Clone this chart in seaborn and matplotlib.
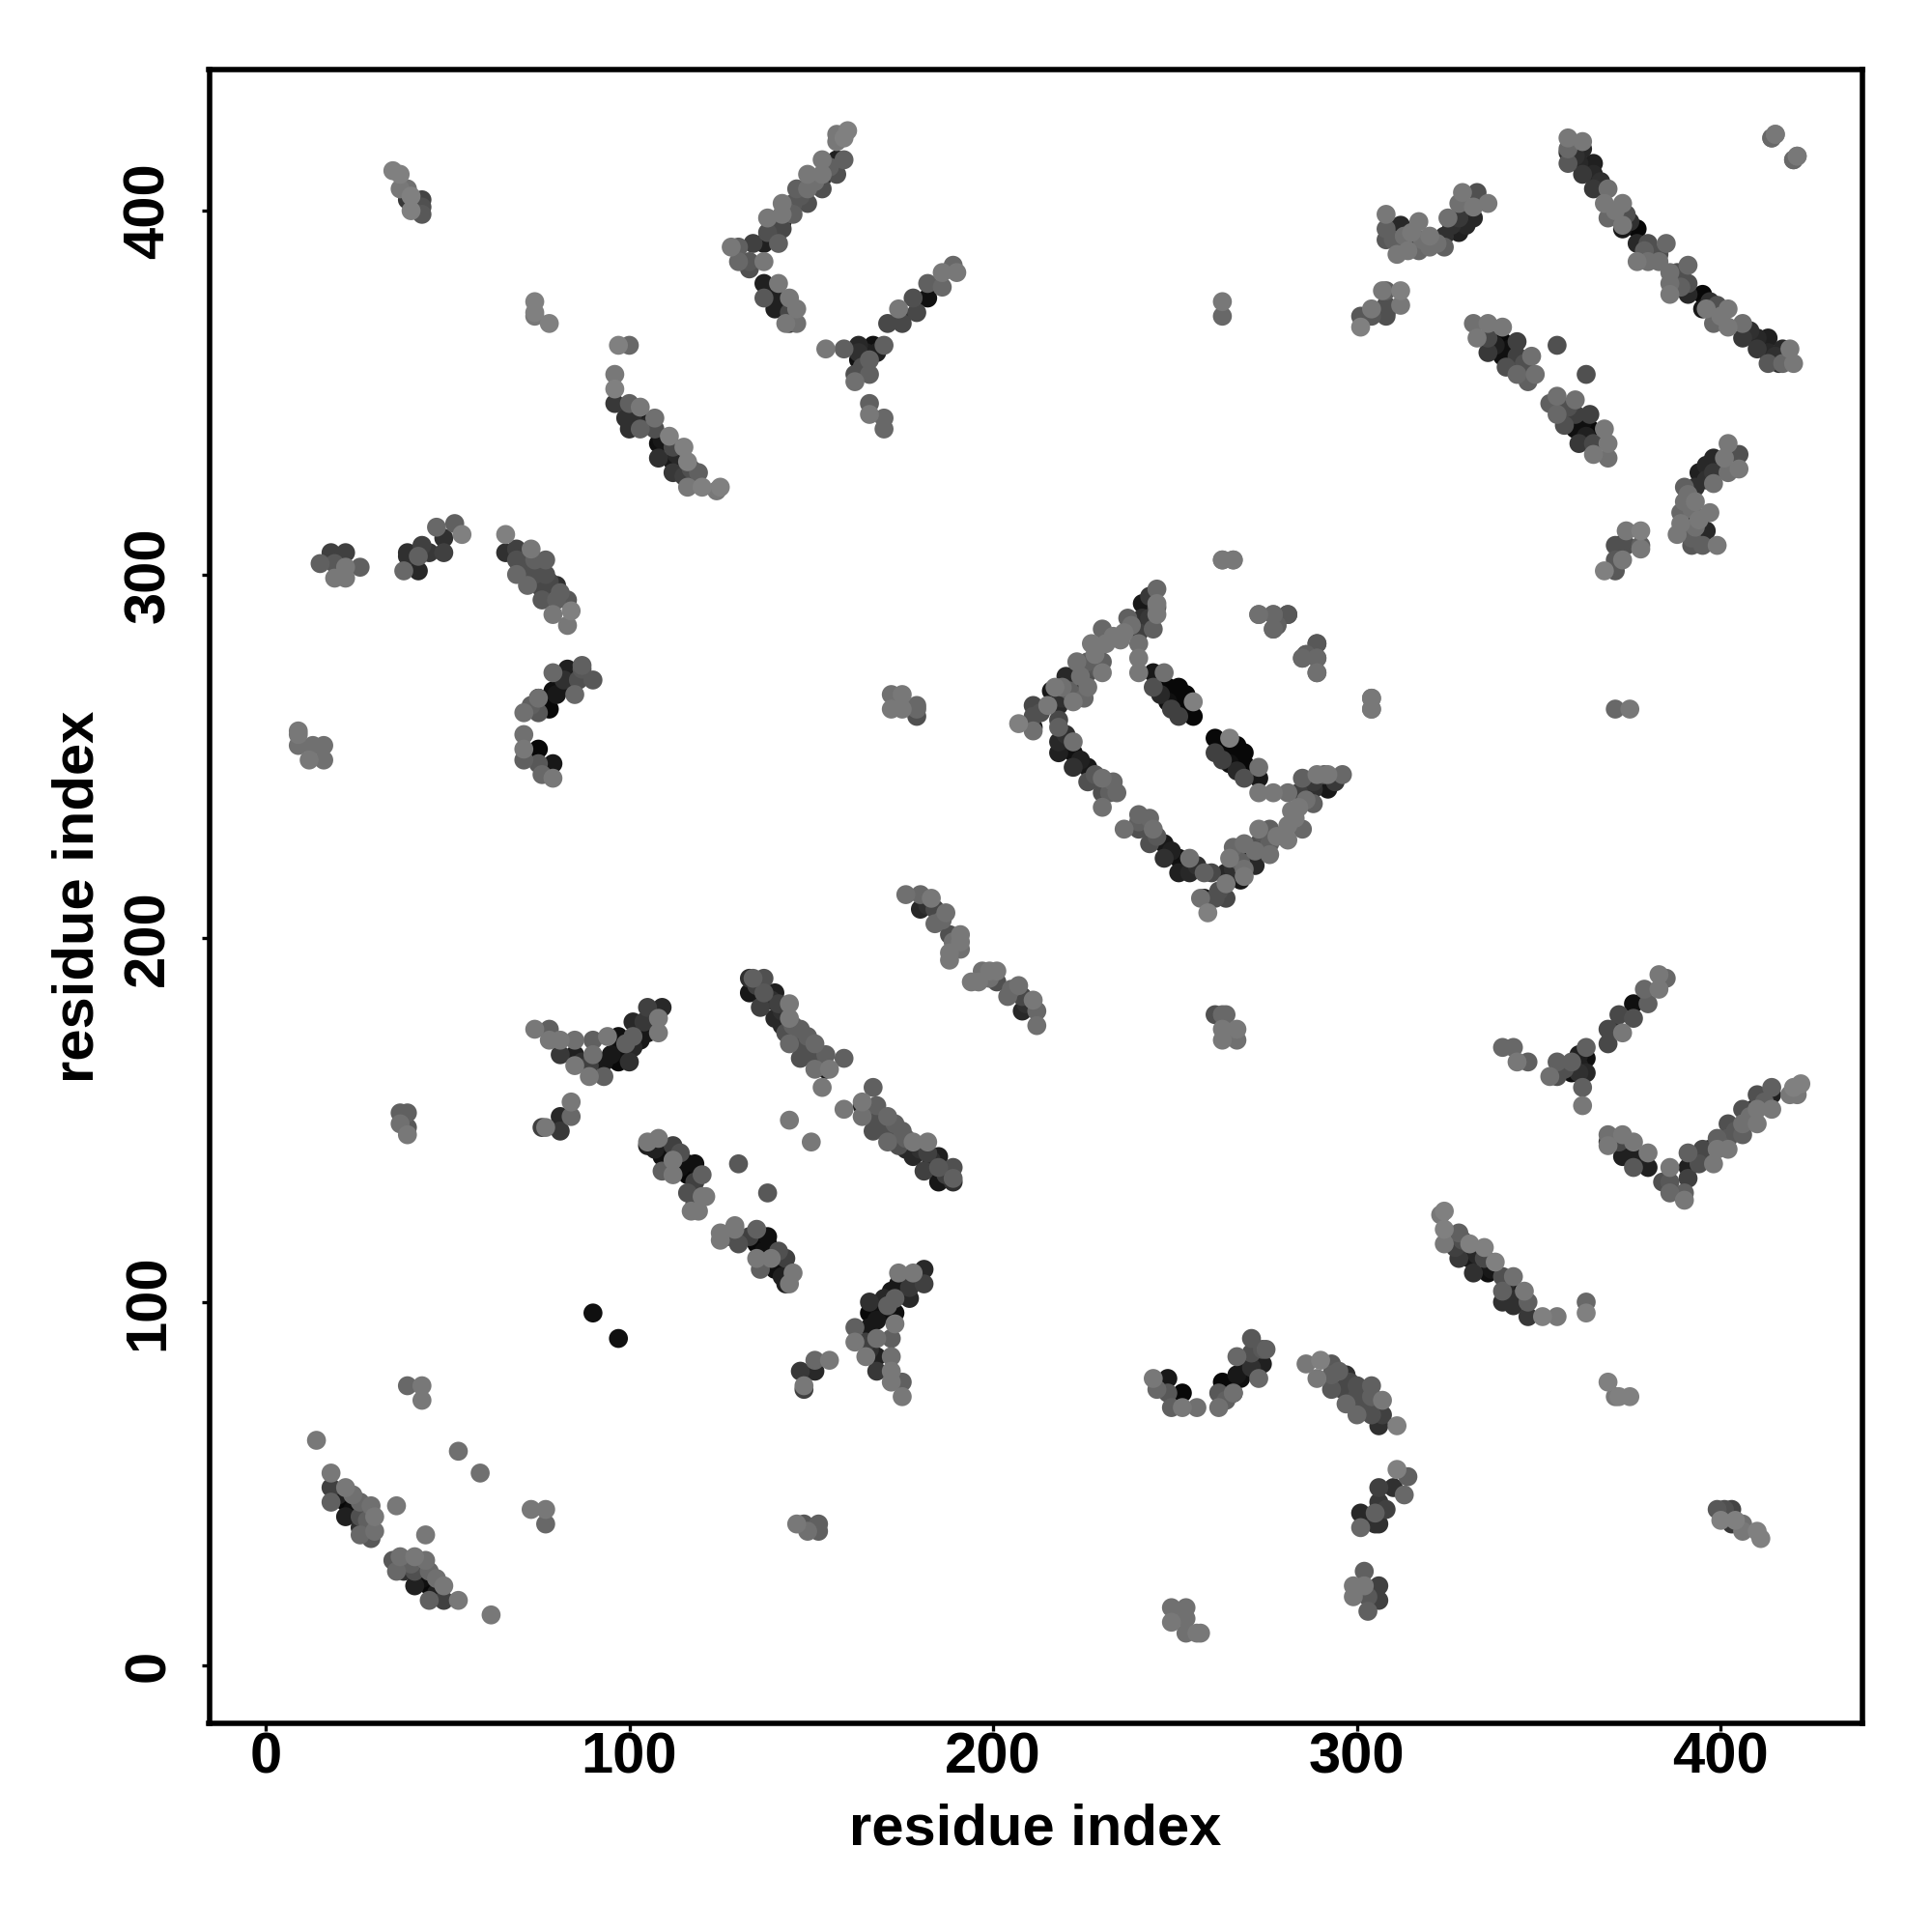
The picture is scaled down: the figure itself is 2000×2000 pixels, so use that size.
import matplotlib
matplotlib.use("Agg")
import matplotlib.pyplot as plt
import pandas as pd
import seaborn as sns

# residue contact pairs, upper triangle only (res_j > res_i).
# one row per cluster; the map is symmetric so the other half is mirrored below
res_i = [
    35, 37, 37, 39, 39, 40, 40, 43, 43, 43,
    74, 74, 74, 78,
    97, 100, 96, 96, 96, 100, 99, 103, 100, 103, 103, 107, 107, 111, 108, 108, 112, 115, 112, 116, 112, 116, 115, 119, 120, 124, 125,
    160, 157, 157, 159, 153, 157, 159, 157, 153, 153, 149, 153, 149, 146, 149, 145, 142, 145, 142, 138, 142, 142, 138, 141, 137, 134, 128, 130, 130, 133, 137, 133,
    137, 141, 137, 140, 144, 140, 144, 146, 143, 146, 144,
    171, 175, 174, 175, 179, 178, 182, 182, 186, 186, 189, 190,
    154, 159, 163, 167, 170, 163, 163, 166, 162, 166, 162, 166, 166, 170, 170,
    263, 263,
    301, 301, 304, 307, 308, 308, 308, 304, 312, 312, 308,
    308, 308, 308, 312, 311, 313, 317, 316, 317, 320, 320, 324, 314, 324, 328, 325, 328, 332, 328, 329, 333, 332, 336,
    358, 358, 358, 358, 362, 362, 361, 362, 365, 365, 365, 369, 368, 369, 373, 374, 377, 373, 373, 377, 380, 385, 381, 377, 380,
    414, 415, 421, 420,
    332, 336, 333, 336, 336, 340, 340, 344, 340, 344, 348, 341, 344, 349, 347,
    355,
    9, 9, 9, 13, 16, 12, 16,
    18, 22, 15, 19, 26, 22, 19, 22,
    47, 52, 54, 49, 43, 39, 38, 42, 39, 45, 49, 42,
    66, 69, 73, 66, 69, 69, 72, 72, 72, 74, 77, 77, 76, 80, 76, 80, 83, 79, 84, 83,
    87, 87, 83, 79, 90, 86, 82, 85, 79, 75, 75, 78, 75, 71,
    71, 71, 71, 75, 75, 79, 76, 79,
    172, 172, 175, 175, 179, 179, 179,
    176, 180, 183, 180, 184, 187, 184, 188, 191, 191, 188, 191, 188,
    263, 266, 273, 277, 281, 278, 277, 289, 285, 286, 289, 289, 304, 304,
    207, 211, 211, 211, 211, 216, 218, 215, 217, 222, 220, 219, 223, 226, 223, 226, 222, 230, 227, 226, 230, 230, 231, 235, 236, 237, 241, 241, 240, 244, 240, 245, 245, 245, 245, 240, 240,
    244, 247, 244, 248, 251, 248, 251, 251, 255, 255,
    218, 218, 218, 218, 222, 222, 222, 226, 226, 230, 233, 234, 230, 230,
    133, 134, 137, 133, 137, 140, 136, 141, 144, 144, 140, 147, 143, 144, 147, 151, 150, 147, 154, 159, 151, 154, 155, 153,
    144, 130,
    105, 105, 108, 109, 112, 109, 112, 109, 112, 116, 116, 116, 117, 118, 120, 118, 120, 121, 118, 119,
    74, 78, 78, 81, 81, 85, 85, 85, 89, 90, 90, 89, 93, 93, 94, 97, 100, 97, 97, 101, 101, 101, 105, 108, 105, 109, 108, 104,
    84, 81, 84, 76, 77, 81,
    37, 39, 37, 39, 39,
    90,
    39, 43, 43,
    14, 53,
    18, 18, 18, 22, 22, 22, 26, 26, 26, 26, 29, 30, 30, 29, 36,
    # pairs hidden inside the denser stretches
    213, 221, 224, 228, 233, 229, 225, 219, 238, 243, 243,
    246, 250, 253, 253, 249, 246,
    220, 224, 228, 232,
    318, 322, 315, 326, 330, 310,
    360, 363, 367, 371, 375, 379, 383, 388,
    338, 342, 346,
    155, 151, 147, 143, 140,
    105, 109, 113, 117, 101,
    135, 139, 142, 145, 149, 152, 142,
    107, 110, 114, 114, 118,
    95, 99, 103, 99, 87, 106,
    70, 74, 78, 81,
    77, 80, 83, 73,
    182, 186, 189,
    20, 24, 28, 24,
    164, 165, 168,
]
res_j = [
    411, 410, 406, 406, 403, 404, 400, 403, 401, 399,
    375, 372, 371, 369,
    363, 363, 355, 351, 347, 347, 343, 346, 340, 343, 340, 343, 340, 338, 336, 332, 335, 335, 331, 331, 328, 324, 327, 328, 324, 323, 324,
    422, 421, 419, 420, 414, 414, 414, 410, 410, 409, 410, 406, 406, 406, 402, 402, 402, 399, 399, 398, 397, 395, 394, 391, 391, 391, 390, 390, 386, 386, 386, 384,
    380, 380, 376, 376, 376, 373, 372, 373, 369, 369, 369,
    369, 369, 373, 371, 372, 376, 376, 380, 379, 383, 385, 383,
    362, 362, 363, 363, 363, 361, 359, 359, 355, 355, 353, 347, 344, 343, 340,
    375, 371,
    368, 371, 373, 378, 378, 374, 371, 371, 378, 374, 372,
    399, 395, 392, 396, 388, 393, 397, 392, 389, 393, 390, 390, 389, 393, 394, 398, 398, 398, 402, 405, 405, 401, 402,
    420, 417, 416, 413, 419, 417, 413, 410, 413, 410, 406, 406, 402, 398, 402, 399, 395, 395, 396, 391, 391, 391, 388, 386, 386,
    420, 421, 415, 414,
    369, 369, 365, 365, 361, 368, 364, 364, 360, 360, 360, 357, 355, 355, 353,
    363,
    257, 256, 253, 253, 253, 249, 249,
    306, 306, 303, 303, 302, 302, 299, 299,
    313, 314, 311, 310, 308, 306, 301, 301, 305, 306, 306, 305,
    311, 307, 307, 306, 304, 300, 303, 300, 297, 304, 304, 300, 296, 297, 293, 293, 293, 289, 290, 286,
    275, 274, 274, 273, 271, 271, 271, 267, 268, 266, 266, 263, 262, 262,
    256, 252, 249, 252, 248, 248, 245, 244,
    267, 263, 267, 263, 264, 263, 261,
    212, 212, 211, 208, 208, 207, 204, 201, 201, 199, 196, 197, 194,
    304, 304, 289, 289, 289, 286, 285, 281, 277, 278, 277, 273, 266, 263,
    259, 264, 261, 258, 257, 268, 264, 264, 269, 265, 272, 269, 269, 269, 276, 273, 272, 273, 281, 276, 276, 285, 281, 282, 284, 288, 292, 288, 284, 285, 281, 292, 289, 296, 291, 277, 273,
    273, 273, 269, 269, 269, 265, 265, 261, 265, 261,
    260, 258, 254, 251, 254, 251, 247, 247, 243, 244, 243, 240, 240, 236,
    189, 189, 189, 185, 185, 185, 181, 182, 182, 178, 178, 175, 174, 171, 171, 171, 168, 167, 168, 167, 164, 164, 164, 159,
    150, 138,
    144, 143, 145, 143, 143, 140, 139, 136, 135, 138, 135, 130, 125, 138, 135, 130, 129, 129, 127, 125,
    175, 175, 172, 172, 168, 172, 168, 165, 162, 172, 168, 165, 162, 166, 173, 166, 166, 173, 170, 170, 173, 177, 174, 174, 181, 181, 178, 177,
    155, 151, 151, 148, 148, 147,
    152, 152, 149, 148, 146,
    97,
    77, 77, 73,
    62, 59,
    53, 49, 45, 49, 45, 41, 45, 41, 38, 36, 44, 41, 37, 35, 44,
    # pairs hidden inside the denser stretches
    262, 268, 272, 278, 283, 274, 266, 266, 286, 294, 288,
    271, 267, 263, 267, 263, 267,
    256, 249, 245, 240,
    392, 391, 394, 396, 396, 392,
    415, 412, 408, 400, 397, 389, 386, 383,
    363, 362, 358,
    412, 408, 404, 400, 396,
    341, 337, 333, 329, 344,
    187, 183, 180, 176, 173, 168, 176,
    142, 141, 137, 141, 133,
    168, 168, 172, 171, 166, 178,
    302, 300, 298, 295,
    265, 267, 269, 264,
    209, 205, 199,
    47, 43, 40, 47,
    357, 361, 361,
]
shade = [
    128, 128, 120, 112, 56, 128, 128, 68, 80, 88,
    128, 128, 120, 128,
    128, 104, 120, 128, 56, 96, 48, 120, 48, 8, 96, 112, 80, 128, 16, 48, 72, 128, 24, 128, 56, 120, 64, 96, 128, 120, 128,
    128, 120, 120, 128, 120, 32, 96, 80, 120, 48, 120, 80, 112, 96, 80, 88, 120, 96, 120, 120, 16, 72, 80, 96, 32, 64, 120, 96, 104, 88, 120, 80,
    32, 120, 88, 32, 120, 32, 72, 120, 120, 112, 56,
    72, 72, 120, 48, 72, 80, 16, 96, 104, 120, 104, 120,
    120, 96, 40, 16, 96, 48, 16, 96, 80, 96, 112, 96, 120, 104, 104,
    120, 104,
    128, 88, 120, 120, 96, 80, 80, 88, 128, 120, 32,
    120, 96, 88, 40, 120, 112, 120, 48, 104, 120, 112, 96, 120, 48, 32, 112, 56, 40, 112, 120, 80, 120, 120,
    120, 104, 48, 88, 120, 40, 40, 56, 32, 40, 56, 112, 120, 104, 120, 80, 8, 24, 120, 40, 80, 104, 80, 120, 112,
    104, 120, 120, 104,
    112, 120, 120, 72, 56, 120, 8, 64, 16, 64, 112, 80, 104, 112, 96,
    80,
    120, 120, 112, 112, 112, 120, 112,
    64, 64, 96, 88, 96, 120, 120, 120,
    104, 96, 128, 48, 64, 48, 104, 40, 48, 56, 64, 96,
    128, 64, 120, 48, 80, 104, 80, 24, 104, 96, 96, 80, 72, 48, 88, 96, 88, 120, 128, 120,
    96, 88, 32, 104, 88, 80, 48, 104, 16, 16, 112, 8, 88, 112,
    112, 120, 96, 8, 88, 24, 104, 120,
    112, 120, 120, 120, 104, 104, 80,
    112, 104, 120, 40, 72, 112, 104, 80, 120, 120, 120, 112, 120,
    120, 120, 104, 104, 80, 96, 104, 88, 104, 96, 104, 112, 120, 120,
    128, 72, 80, 24, 112, 24, 40, 120, 120, 120, 40, 112, 24, 112, 112, 80, 32, 120, 120, 96, 96, 104, 120, 120, 120, 96, 24, 48, 64, 96, 112, 120, 120, 104, 96, 120, 120,
    24, 112, 80, 8, 8, 16, 8, 64, 128, 8,
    72, 96, 40, 32, 112, 16, 48, 24, 80, 112, 104, 104, 80, 112,
    48, 96, 80, 24, 88, 32, 64, 64, 120, 120, 40, 96, 80, 104, 80, 104, 80, 80, 96, 96, 112, 24, 120, 120,
    120, 88,
    120, 32, 120, 8, 64, 16, 120, 96, 120, 8, 8, 80, 120, 16, 96, 48, 120, 120, 80, 120,
    120, 96, 120, 120, 56, 112, 32, 120, 120, 96, 112, 64, 96, 24, 120, 8, 48, 16, 16, 40, 96, 40, 24, 120, 64, 40, 120, 56,
    120, 40, 104, 64, 120, 56,
    96, 96, 112, 88, 120,
    16,
    104, 120, 120,
    120, 112,
    120, 64, 96, 120, 8, 32, 104, 80, 48, 104, 112, 120, 112, 88, 120,
    # pairs hidden inside the denser stretches
    80, 96, 112, 120, 120, 88, 104, 48, 112, 56, 56,
    8, 0, 8, 8, 64, 40,
    48, 32, 88, 96,
    112, 112, 120, 48, 40, 96,
    48, 32, 48, 120, 48, 96, 112, 80,
    32, 16, 80,
    96, 112, 88, 96, 32,
    40, 24, 40, 80, 48,
    64, 48, 48, 96, 96, 80, 40,
    32, 16, 16, 80, 64,
    24, 16, 24, 96, 48, 48,
    72, 80, 72, 96,
    8, 24, 24, 96,
    48, 104, 112,
    32, 16, 96, 112,
    80, 32, 32,
]

tick_values = [0, 100, 200, 300, 400]
axis_name = "residue index"

# symmetric contact map: draw both (i, j) and (j, i), lighter dots end up on top
df = pd.DataFrame({
    "x": res_i + res_j,
    "y": res_j + res_i,
    "shade": shade + shade,
})
df = df.sort_values("shade", kind="stable")

sns.set_theme(style="white")
plt.rcParams["font.family"] = ["Liberation Sans", "DejaVu Sans"]

fig = plt.figure(figsize=(10, 10), dpi=200)
ax = fig.add_axes([0.10825, 0.108, 0.8555, 0.856])

sns.scatterplot(data=df, x="x", y="y", hue="shade", palette="gray",
                hue_norm=(0, 255), s=50, linewidth=0, legend=False, ax=ax)

ax.set_xlim(-15.5, 438.8)
ax.set_ylim(-15.8, 438.8)
ax.set_xticks(tick_values)
ax.set_yticks(tick_values)
ax.set_xticklabels(tick_values, fontsize=21.5, fontweight="bold")
ax.set_yticklabels(tick_values, fontsize=21.5, fontweight="bold", rotation=90, va="center")
ax.tick_params(axis="both", length=3, width=1.2, color="black", labelcolor="black",
               bottom=True, left=True)
ax.tick_params(axis="x", pad=0)
ax.tick_params(axis="y", pad=9.5)
ax.set_xlabel(axis_name, fontsize=21.5, fontweight="bold", color="black", labelpad=7)
ax.set_ylabel(axis_name, fontsize=21.5, fontweight="bold", color="black", labelpad=6.5)
for spine in ax.spines.values():
    spine.set_linewidth(2)
    spine.set_edgecolor("black")

fig.savefig("out.png", dpi=200)
